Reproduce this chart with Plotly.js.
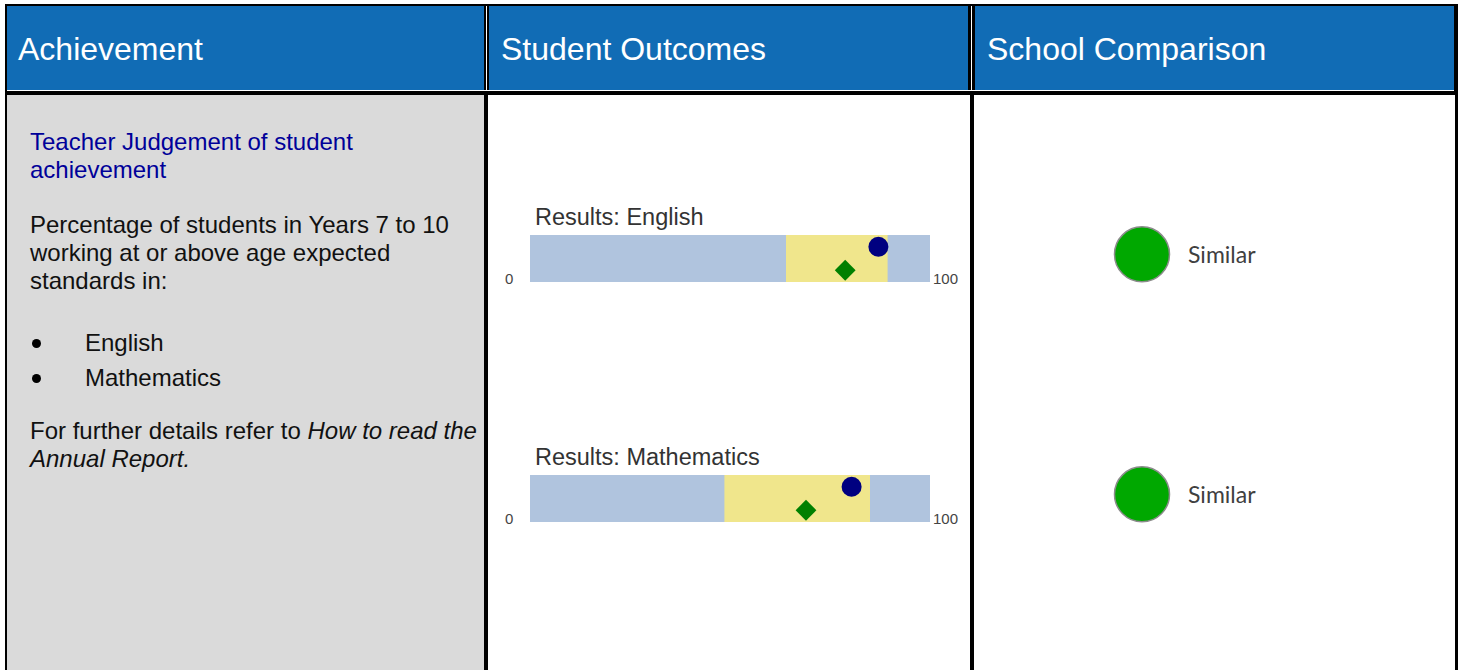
<!DOCTYPE html>
<html>
<head>
<meta charset="utf-8">
<script src="https://cdn.plot.ly/plotly-3.0.1.min.js"></script>
<style>
  html, body { margin:0; padding:0; }
  body { width:1462px; height:670px; position:relative; overflow:hidden; background:#fff;
         font-family:"Liberation Sans", Arial, sans-serif; }
  .abs { position:absolute; }
  .hdr { background:#116cb5; }
  .htxt { color:#fff; font-size:32px; line-height:32px; white-space:nowrap; }
  .ltxt { font-size:24px; line-height:28px; white-space:nowrap; color:#111; }
  .dot { position:absolute; width:9px; height:9px; border-radius:50%; background:#000; }
  #chart { position:absolute; left:0; top:0; width:1462px; height:670px; }
</style>
</head>
<body>
<!-- table frame -->
<div class="abs" style="left:5px;top:4px;width:1453px;height:680px;background:#000"></div>
<div class="abs hdr" style="left:7px;top:6px;width:477px;height:84px"></div>
<div class="abs hdr" style="left:489px;top:6px;width:479px;height:84px"></div>
<div class="abs hdr" style="left:975px;top:6px;width:479px;height:84px"></div>
<div class="abs" style="left:7px;top:90px;width:1447px;height:1px;background:#fff"></div>
<div class="abs" style="left:486px;top:6px;width:1px;height:85px;background:#fff"></div>
<div class="abs" style="left:971px;top:6px;width:1px;height:85px;background:#fff"></div>
<div class="abs" style="left:7px;top:95px;width:477px;height:600px;background:#dadada"></div>
<div class="abs" style="left:488px;top:95px;width:482px;height:600px;background:#fff"></div>
<div class="abs" style="left:974px;top:95px;width:481px;height:600px;background:#fff"></div>

<div class="abs htxt" style="left:18px;top:33px">Achievement</div>
<div class="abs htxt" style="left:501px;top:33px">Student Outcomes</div>
<div class="abs htxt" style="left:987px;top:33px">School Comparison</div>

<div class="abs ltxt" style="left:30px;top:128px;color:#000099">Teacher Judgement of student<br>achievement</div>
<div class="abs ltxt" style="left:30px;top:211px">Percentage of students in Years 7 to 10<br>working at or above age expected<br>standards in:</div>
<div class="dot" style="left:32px;top:339px"></div>
<div class="abs ltxt" style="left:85px;top:329px">English</div>
<div class="dot" style="left:32px;top:374px"></div>
<div class="abs ltxt" style="left:85px;top:364px">Mathematics</div>
<div class="abs ltxt" style="left:30px;top:417px">For further details refer to <i>How to read the<br>Annual Report.</i></div>

<div id="chart"></div>

<script>
// ---- data ----
const subjects      = ["English", "Mathematics"];
const scaleMin      = 0;
const scaleMax      = 100;
const rangeLow      = [64.0, 48.6];   // khaki band start
const rangeHigh     = [89.4, 85.0];   // khaki band end
const schoolResult  = [87.1, 80.4];   // navy circle
const similarResult = [78.8, 69.0];   // green diamond
const comparison    = ["Similar", "Similar"];

const W = 1462, H = 670;
const px = v => v / W;
const py = v => 1 - v / H;

const traces = [];
const layout = {
  width: W, height: H,
  margin: {l:0, r:0, t:0, b:0},
  paper_bgcolor: "rgba(0,0,0,0)",
  plot_bgcolor: "rgba(0,0,0,0)",
  showlegend: false,
  barmode: "overlay",
  annotations: [],
  font: {family: "Liberation Sans, Arial, sans-serif"}
};

const barTop = [235, 475];
const barH = 47;
subjects.forEach((s, i) => {
  const n = i === 0 ? "" : String(i + 1);
  const xa = "x" + n, ya = "y" + n;
  layout["xaxis" + n] = {domain: [px(530), px(930)], range: [scaleMin, scaleMax], visible: false,
                         anchor: ya, fixedrange: true};
  layout["yaxis" + n] = {domain: [py(barTop[i] + barH), py(barTop[i])], range: [-0.5, 0.5],
                         visible: false, anchor: xa, fixedrange: true};
  traces.push({type: "bar", orientation: "h", xaxis: xa, yaxis: ya,
               y: [0], x: [scaleMax - scaleMin], base: [scaleMin], width: [1],
               marker: {color: "#b0c4de", line: {width: 0}}, hoverinfo: "skip"});
  traces.push({type: "bar", orientation: "h", xaxis: xa, yaxis: ya,
               y: [0], x: [rangeHigh[i] - rangeLow[i]], base: [rangeLow[i]], width: [1],
               marker: {color: "#f0e68c", line: {width: 0}}, hoverinfo: "skip"});
  traces.push({type: "scatter", mode: "markers", xaxis: xa, yaxis: ya,
               x: [similarResult[i]], y: [-0.25],
               marker: {symbol: "diamond", size: 16, color: "#008000"}, hoverinfo: "skip"});
  traces.push({type: "scatter", mode: "markers", xaxis: xa, yaxis: ya,
               x: [schoolResult[i]], y: [0.25],
               marker: {symbol: "circle", size: 20, color: "#000080"}, hoverinfo: "skip"});
  layout.annotations.push({xref: xa + " domain", yref: ya + " domain", x: 0, y: 1,
    xanchor: "left", yanchor: "middle", xshift: 3, yshift: 18, showarrow: false,
    text: "Results: " + s, font: {size: 23.5, color: "#333333"}});
  layout.annotations.push({xref: xa, yref: ya + " domain", x: scaleMin, y: 0,
    xanchor: "right", yanchor: "middle", xshift: -15, yshift: 4, showarrow: false,
    text: String(scaleMin), font: {size: 15, color: "#444444"}});
  layout.annotations.push({xref: xa, yref: ya + " domain", x: scaleMax, y: 0,
    xanchor: "left", yanchor: "middle", xshift: 1, yshift: 4, showarrow: false,
    text: String(scaleMax), font: {size: 15, color: "#444444"}});
});

// comparison circles
layout.xaxis3 = {domain: [px(1100), px(1184)], range: [-1, 1], visible: false, anchor: "y3", fixedrange: true};
layout.yaxis3 = {domain: [py(614.3), py(134.3)], type: "category",
                 categoryarray: subjects.slice().reverse(), categoryorder: "array",
                 range: [-0.5, 1.5], visible: false, anchor: "x3", fixedrange: true};
traces.push({type: "scatter", mode: "markers", xaxis: "x3", yaxis: "y3",
             x: subjects.map(() => 0), y: subjects,
             marker: {symbol: "circle", size: 55, color: "#00a800", line: {color: "#8c8c8c", width: 1.5}},
             hoverinfo: "skip"});
subjects.forEach((s, i) => {
  layout.annotations.push({xref: "x3", yref: "y3", x: 0, y: s, xanchor: "left", yanchor: "middle",
    xshift: 44, yshift: 0, showarrow: false, text: comparison[i],
    font: {family: "Lato, Open Sans, sans-serif", size: 23, color: "#404040"}});
});

Plotly.newPlot("chart", traces, layout, {staticPlot: true, displayModeBar: false});
</script>
</body>
</html>
